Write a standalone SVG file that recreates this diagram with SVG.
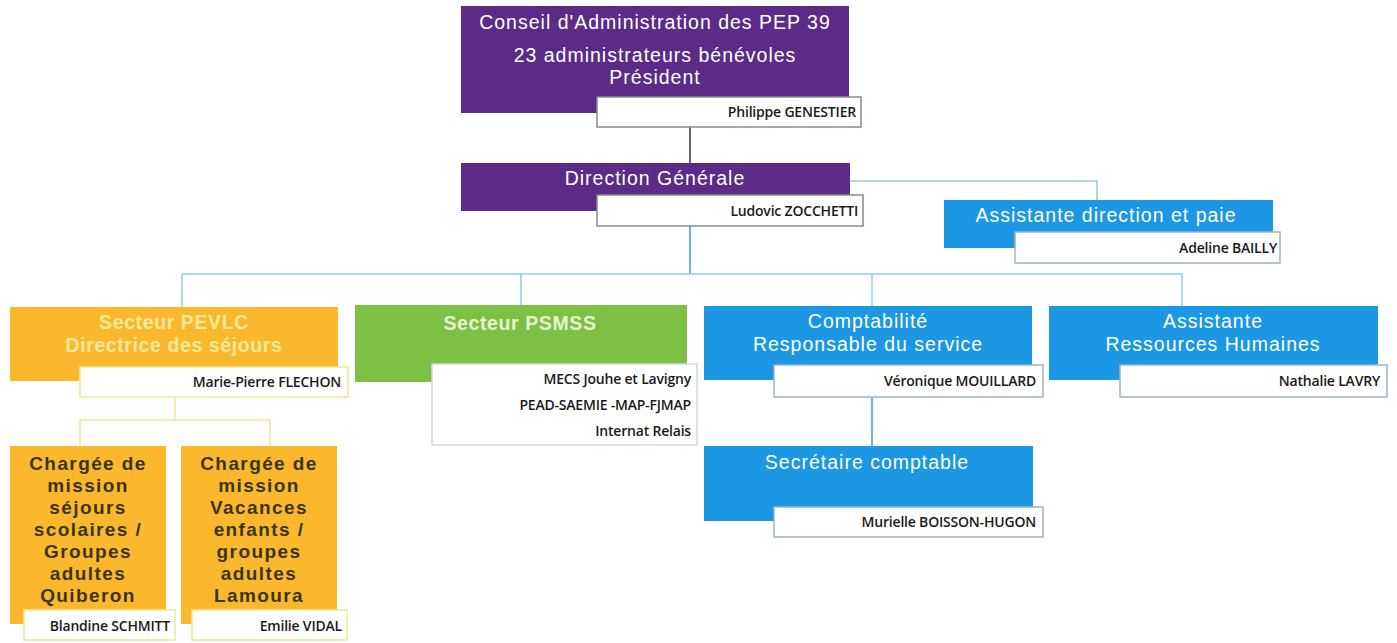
<svg xmlns="http://www.w3.org/2000/svg" width="1397" height="643" viewBox="0 0 1397 643">
<style>
.t{font-family:"Liberation Sans",Arial,sans-serif;font-size:19.5px;letter-spacing:1px;fill:#ffffff;text-anchor:middle}
.ty{fill:#f3e99a;font-weight:bold;letter-spacing:0.6px}
.tg{fill:#e6f3d2;font-weight:bold;letter-spacing:0.6px}
.tc{fill:#3b3418;font-weight:bold;font-size:19px;letter-spacing:1.4px}
.n{font-family:"Open Sans","Liberation Sans",sans-serif;font-size:14px;font-weight:600;letter-spacing:-0.2px;fill:#1a1a1a;text-anchor:end}
.purple{fill:#5b2b87}
.blue{fill:#1b97e3}
.orange{fill:#fbb82c}
.green{fill:#7cc143}
.nb{fill:#ffffff;stroke:#8a8a8a;stroke-width:1.5}
.nby{fill:#ffffff;stroke:#eee79a;stroke-width:1.5}
.nbb{fill:#ffffff;stroke:#9fb4c0;stroke-width:1.5}
.c{fill:none;stroke-width:1.5}
</style>
<g id="connectors">
<path class="c" stroke="#333333" d="M690,127 V163"/>
<path class="c" stroke="#9cc9d6" d="M850,181 H1097 V200"/>
<path class="c" stroke="#3aa3d6" d="M690,226 V274"/>
<path class="c" stroke="#8fd0e0" d="M182,307 V274 H1182 V306 M521,274 V305 M872,274 V306"/>
<path class="c" stroke="#3aa3d6" d="M872,397 V446"/>
<path class="c" stroke="#eee79a" d="M175,397 V420 M80,446 V420 H270 V446"/>
</g>
<g id="conseil">
<rect class="purple" x="461" y="6" width="388" height="107"/>
<rect class="nb" x="597" y="97" width="264" height="30"/>
<text class="t" x="655" y="29">Conseil d'Administration des PEP 39</text>
<text class="t" x="655" y="62">23 administrateurs bénévoles</text>
<text class="t" x="655" y="84">Président</text>
<text class="n" x="856" y="117">Philippe GENESTIER</text>
</g>
<g id="direction">
<rect class="purple" x="461" y="163" width="389" height="48"/>
<rect class="nb" x="597" y="195" width="266" height="31"/>
<text class="t" x="655" y="185">Direction Générale</text>
<text class="n" x="858" y="216">Ludovic ZOCCHETTI</text>
</g>
<g id="assistante-direction">
<rect class="blue" x="944" y="200" width="329" height="48"/>
<rect class="nbb" x="1015" y="232" width="265" height="31"/>
<text class="t" x="1106" y="222">Assistante  direction et paie</text>
<text class="n" x="1277" y="253">Adeline BAILLY</text>
</g>
<g id="pevlc">
<rect class="orange" x="10" y="307" width="328" height="74"/>
<rect class="nby" x="80" y="367" width="268" height="30"/>
<text class="t ty" x="174" y="329">Secteur PEVLC</text>
<text class="t ty" x="174" y="352">Directrice des séjours</text>
<text class="n" x="341" y="387">Marie-Pierre FLECHON</text>
</g>
<g id="psmss">
<rect class="green" x="355" y="305" width="332" height="77"/>
<rect class="nb" x="432" y="364" width="265" height="81" style="stroke:#d8d8d8"/>
<text class="t tg" x="520" y="330">Secteur PSMSS</text>
<text class="n" x="691" y="384">MECS Jouhe et Lavigny</text>
<text class="n" x="691" y="410">PEAD-SAEMIE -MAP-FJMAP</text>
<text class="n" x="691" y="436">Internat Relais</text>
</g>
<g id="comptabilite">
<rect class="blue" x="704" y="306" width="328" height="74"/>
<rect class="nbb" x="774" y="365" width="269" height="32"/>
<text class="t" x="868" y="328">Comptabilité</text>
<text class="t" x="868" y="351">Responsable du service</text>
<text class="n" x="1036" y="386">Véronique MOUILLARD</text>
</g>
<g id="assistante-rh">
<rect class="blue" x="1049" y="306" width="329" height="74"/>
<rect class="nbb" x="1120" y="365" width="267" height="32"/>
<text class="t" x="1213" y="328">Assistante</text>
<text class="t" x="1213" y="351">Ressources Humaines</text>
<text class="n" x="1380" y="386">Nathalie LAVRY</text>
</g>
<g id="secretaire">
<rect class="blue" x="704" y="446" width="329" height="75"/>
<rect class="nbb" x="774" y="507" width="269" height="30"/>
<text class="t" x="867" y="469">Secrétaire comptable</text>
<text class="n" x="1036" y="527">Murielle BOISSON-HUGON</text>
</g>
<g id="charge-quiberon">
<rect class="orange" x="10" y="446" width="156" height="178"/>
<rect class="nby" x="24" y="610" width="151" height="30"/>
<text class="t tc" x="88" y="470">Chargée de</text>
<text class="t tc" x="88" y="492">mission</text>
<text class="t tc" x="88" y="514">séjours</text>
<text class="t tc" x="88" y="536">scolaires /</text>
<text class="t tc" x="88" y="558">Groupes</text>
<text class="t tc" x="88" y="580">adultes</text>
<text class="t tc" x="88" y="602">Quiberon</text>
<text class="n" x="170" y="631">Blandine SCHMITT</text>
</g>
<g id="charge-lamoura">
<rect class="orange" x="181" y="446" width="156" height="178"/>
<rect class="nby" x="192" y="610" width="155" height="30"/>
<text class="t tc" x="259" y="470">Chargée de</text>
<text class="t tc" x="259" y="492">mission</text>
<text class="t tc" x="259" y="514">Vacances</text>
<text class="t tc" x="259" y="536">enfants /</text>
<text class="t tc" x="259" y="558">groupes</text>
<text class="t tc" x="259" y="580">adultes</text>
<text class="t tc" x="259" y="602">Lamoura</text>
<text class="n" x="342" y="631">Emilie VIDAL</text>
</g>
</svg>
